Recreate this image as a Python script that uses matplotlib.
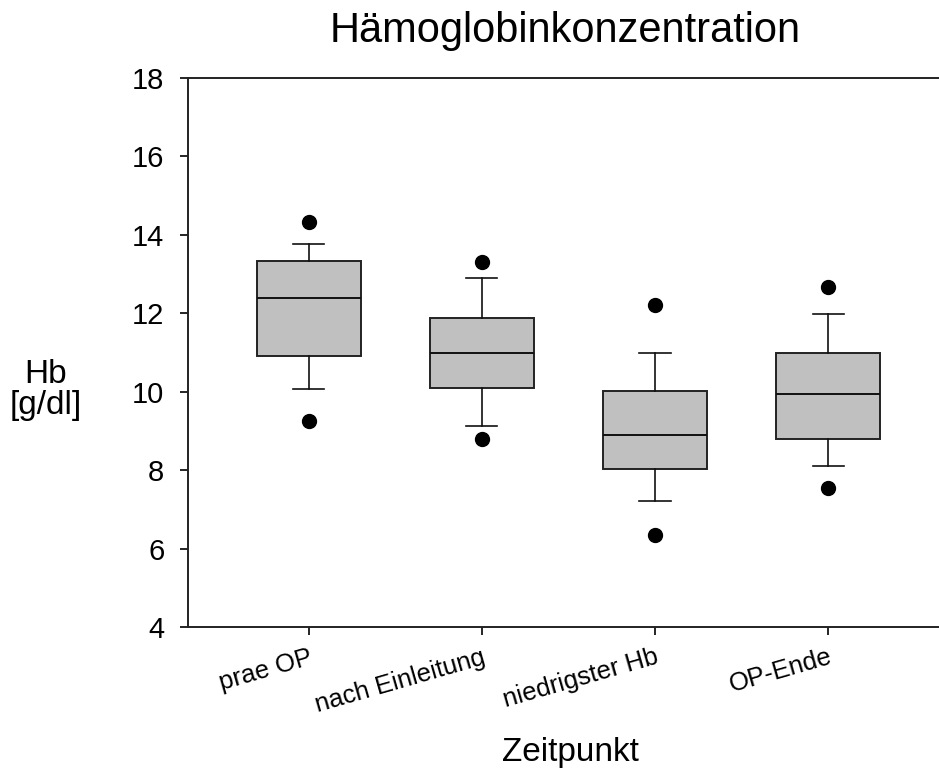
import matplotlib
matplotlib.use("Agg")
import matplotlib.pyplot as plt

plt.rcParams['font.family'] = ['Liberation Sans', 'DejaVu Sans']

# Werte
zeitpunkte = ["prae OP", "nach Einleitung", "niedrigster Hb", "OP-Ende"]
whisker_unten = [10.08, 9.13, 7.21, 8.11]
q1 = [10.90, 10.09, 8.02, 8.79]
median = [12.39, 10.99, 8.89, 9.94]
q3 = [13.34, 11.87, 10.02, 10.99]
whisker_oben = [13.76, 12.90, 10.98, 11.98]
ausreisser_unten = [9.26, 8.80, 6.35, 7.54]
ausreisser_oben = [14.32, 13.30, 12.21, 12.66]

stats = []
for i, name in enumerate(zeitpunkte):
    stats.append({
        'label': name,
        'whislo': whisker_unten[i],
        'q1': q1[i],
        'med': median[i],
        'q3': q3[i],
        'whishi': whisker_oben[i],
        'fliers': [ausreisser_unten[i], ausreisser_oben[i]],
    })

fig = plt.figure(figsize=(9.39, 7.76), dpi=100)
ax = fig.add_axes([0.2002, 0.192, 0.7998, 0.7075])

pos = list(range(1, len(zeitpunkte) + 1))
ax.bxp(stats, positions=pos, widths=0.6, patch_artist=True, capwidths=0.18,
       boxprops=dict(facecolor='#c0c0c0', edgecolor='#222222', linewidth=1.4),
       medianprops=dict(color='#111111', linewidth=1.4),
       whiskerprops=dict(color='#111111', linewidth=1.2),
       capprops=dict(color='#111111', linewidth=1.2),
       flierprops=dict(marker='o', markerfacecolor='black', markeredgecolor='black',
                       markersize=10))

ax.set_xlim(0.303, 4.64)
ax.set_ylim(4, 18)
ax.set_yticks(range(4, 19, 2))
ax.set_xticks(pos)
ax.set_xticklabels(zeitpunkte, rotation=16, ha='right', va='top',
                   rotation_mode='anchor', fontsize=18.5)

ax.spines['right'].set_visible(False)
for s in ['left', 'top', 'bottom']:
    ax.spines[s].set_linewidth(1.4)
    ax.spines[s].set_color('#222222')

ax.tick_params(axis='y', direction='out', length=6, width=1.2, labelsize=21, pad=11)
ax.tick_params(axis='x', direction='out', length=6, width=1.2, pad=7)

fig.text(565 / 939, 1 - 31 / 776, "Hämoglobinkonzentration", ha='center', va='center',
         fontsize=30)
fig.text(46 / 939, 1 - 390 / 776, "Hb\n[g/dl]", ha='center', va='center',
         fontsize=24, multialignment='center', linespacing=1.0)
fig.text(570 / 939, 1 - 752 / 776, "Zeitpunkt", ha='center', va='center', fontsize=24)

fig.savefig("out.png", dpi=100)
